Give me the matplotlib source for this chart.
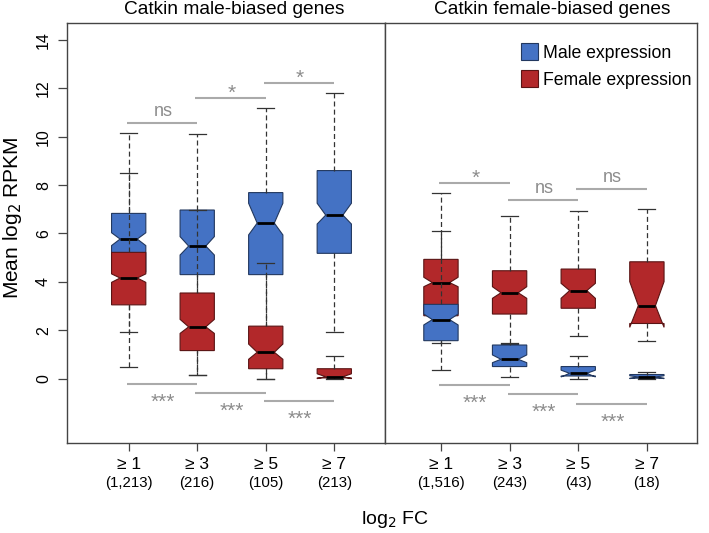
import matplotlib.pyplot as plt
from matplotlib.patches import Patch

plt.rcParams['font.family'] = ['Liberation Sans', 'DejaVu Sans']

fc_labels = ['≥ 1', '≥ 3', '≥ 5', '≥ 7']
male_biased_n = ['(1,213)', '(216)', '(105)', '(213)']
female_biased_n = ['(1,516)', '(243)', '(43)', '(18)']

# catkin male-biased genes, male expression (blue)
mb_male_whislo = [1.93, 0.15, 0.0, 1.94]
mb_male_q1 = [4.40, 4.30, 4.30, 5.18]
mb_male_cilo = [5.50, 5.11, 5.94, 6.39]
mb_male_med = [5.77, 5.48, 6.43, 6.76]
mb_male_cihi = [6.03, 5.87, 7.25, 7.25]
mb_male_q3 = [6.83, 6.97, 7.69, 8.60]
mb_male_whishi = [10.14, 10.11, 11.17, 11.82]

# catkin male-biased genes, female expression (red)
mb_female_whislo = [0.47, 0.15, 0.0, 0.0]
mb_female_q1 = [3.05, 1.16, 0.41, 0.03]
mb_female_cilo = [3.98, 1.87, 0.80, 0.0]
mb_female_med = [4.16, 2.14, 1.09, 0.08]
mb_female_cihi = [4.33, 2.45, 1.43, 0.20]
mb_female_q3 = [5.22, 3.54, 2.17, 0.41]
mb_female_whishi = [8.49, 6.97, 4.78, 0.94]

# catkin female-biased genes, female expression (red)
fb_female_whislo = [1.49, 1.45, 1.78, 1.57]
fb_female_q1 = [2.60, 2.67, 2.91, 2.28]
fb_female_cilo = [3.80, 3.32, 3.32, 2.12]
fb_female_med = [3.97, 3.55, 3.64, 3.02]
fb_female_cihi = [4.19, 3.80, 3.94, 4.01]
fb_female_q3 = [4.93, 4.46, 4.53, 4.83]
fb_female_whishi = [7.66, 6.72, 6.94, 7.00]

# catkin female-biased genes, male expression (blue)
fb_male_whislo = [0.36, 0.06, 0.0, 0.0]
fb_male_q1 = [1.57, 0.50, 0.11, 0.02]
fb_male_cilo = [2.22, 0.66, 0.07, 0.0]
fb_male_med = [2.44, 0.80, 0.22, 0.07]
fb_male_cihi = [2.67, 0.98, 0.35, 0.12]
fb_male_q3 = [3.07, 1.39, 0.50, 0.17]
fb_male_whishi = [6.12, 1.49, 0.94, 0.29]

# significance bars between neighbouring groups
mb_top_y = [10.58, 11.59, 12.20]
mb_top_lab = ['ns', '*', '*']
mb_bot_y = [-0.22, -0.58, -0.91]
mb_bot_lab = ['***', '***', '***']
fb_top_y = [8.07, 7.38, 7.85]
fb_top_lab = ['*', 'ns', 'ns']
fb_bot_y = [-0.27, -0.65, -1.05]
fb_bot_lab = ['***', '***', '***']

blue = '#4472C4'
blue_edge = '#22385f'
red = '#B2282A'
red_edge = '#5a1414'
grey_line = '#aaaaaa'
grey_text = '#8c8c8c'
frame = '#444444'


def box_stats(whislo, q1, cilo, med, cihi, q3, whishi):
    return [dict(whislo=a, q1=b, cilo=c, med=d, cihi=e, q3=f, whishi=g, fliers=[])
            for a, b, c, d, e, f, g in zip(whislo, q1, cilo, med, cihi, q3, whishi)]


def draw_boxes(ax, stats, face, edge, z):
    ax.bxp(stats, positions=[1, 2, 3, 4], widths=0.5, shownotches=True, patch_artist=True,
           showfliers=False, zorder=z, manage_ticks=False,
           boxprops=dict(facecolor=face, edgecolor=edge, linewidth=0.8),
           medianprops=dict(color='black', linewidth=2.0, solid_capstyle='butt'),
           whiskerprops=dict(color='#333333', linewidth=0.9, linestyle=(0, (4, 2.5))),
           capprops=dict(color='#333333', linewidth=0.9))


def draw_sig(ax, ys, labels, above):
    for i, (y, lab) in enumerate(zip(ys, labels)):
        x0 = i + 1
        ax.plot([x0 - 0.03, x0 + 1.0], [y, y], color=grey_line, lw=1.5,
                solid_capstyle='butt', zorder=5)
        if lab == 'ns':
            ax.text(x0 + 0.5, y + 0.29, lab, ha='center', va='baseline', fontsize=13,
                    color=grey_text, zorder=5)
        else:
            ty = y - 0.02 if above else y - 0.98
            ax.text(x0 + 0.5, ty, lab, ha='center', va='baseline', fontsize=15,
                    color=grey_text, zorder=5)


fig = plt.figure(figsize=(7.09, 5.33), dpi=100)
ax1 = fig.add_axes([67 / 709, 1 - 443 / 533, 318 / 709, 420 / 533])
ax2 = fig.add_axes([385 / 709, 1 - 443 / 533, 312 / 709, 420 / 533])

draw_boxes(ax1, box_stats(mb_male_whislo, mb_male_q1, mb_male_cilo, mb_male_med,
                          mb_male_cihi, mb_male_q3, mb_male_whishi), blue, blue_edge, 2)
draw_boxes(ax1, box_stats(mb_female_whislo, mb_female_q1, mb_female_cilo, mb_female_med,
                          mb_female_cihi, mb_female_q3, mb_female_whishi), red, red_edge, 3)
draw_boxes(ax2, box_stats(fb_female_whislo, fb_female_q1, fb_female_cilo, fb_female_med,
                          fb_female_cihi, fb_female_q3, fb_female_whishi), red, red_edge, 2)
draw_boxes(ax2, box_stats(fb_male_whislo, fb_male_q1, fb_male_cilo, fb_male_med,
                          fb_male_cihi, fb_male_q3, fb_male_whishi), blue, blue_edge, 3)

draw_sig(ax1, mb_top_y, mb_top_lab, True)
draw_sig(ax1, mb_bot_y, mb_bot_lab, False)
draw_sig(ax2, fb_top_y, fb_top_lab, True)
draw_sig(ax2, fb_bot_y, fb_bot_lab, False)

ax1.set_xlim(0.1, 4.74)
ax2.set_xlim(0.185, 4.73)
for ax, counts in [(ax1, male_biased_n), (ax2, female_biased_n)]:
    ax.set_ylim(-2.66, 14.70)
    for s in ax.spines.values():
        s.set_color(frame)
        s.set_linewidth(1.0)
    ax.set_xticks([1, 2, 3, 4])
    ax.set_xticklabels([])
    ax.tick_params(axis='x', direction='out', length=6, width=0.9, color=frame)
    tr = ax.get_xaxis_transform()
    for x, fc, n in zip([1, 2, 3, 4], fc_labels, counts):
        ax.text(x, -0.0507, fc, transform=tr, ha='center', va='center', fontsize=12.5)
        ax.text(x, -0.096, n, transform=tr, ha='center', va='center', fontsize=10.8)

ax1.set_yticks(range(0, 15, 2))
ax1.tick_params(axis='y', direction='out', length=6.5, width=0.9, color=frame,
                labelsize=11.5, pad=5)
for lab in ax1.get_yticklabels():
    lab.set_rotation(90)
    lab.set_va('center')
ax2.set_yticks([])

fig.text(234 / 709, 1 - 9.5 / 533, 'Catkin male-biased genes', ha='center', va='center',
         fontsize=13.8)
fig.text(552 / 709, 1 - 9.5 / 533, 'Catkin female-biased genes', ha='center', va='center',
         fontsize=13.8)
fig.text(13 / 709, 1 - 218 / 533, 'Mean log$_2$ RPKM', rotation=90, ha='center',
         va='center', fontsize=15)
fig.text(395 / 709, 1 - 519 / 533, 'log$_2$ FC', ha='center', va='center', fontsize=14)

handles = [Patch(facecolor=blue, edgecolor=blue_edge, linewidth=0.8),
           Patch(facecolor=red, edgecolor=red_edge, linewidth=0.8)]
ax2.legend(handles, ['Male expression', 'Female expression'], loc='upper left',
           bbox_to_anchor=(0.437, 0.952), frameon=False, fontsize=12.7,
           handlelength=0.95, handleheight=1.1, handletextpad=0.3,
           labelspacing=0.5, borderpad=0, borderaxespad=0)

fig.savefig('out.png', dpi=100)
